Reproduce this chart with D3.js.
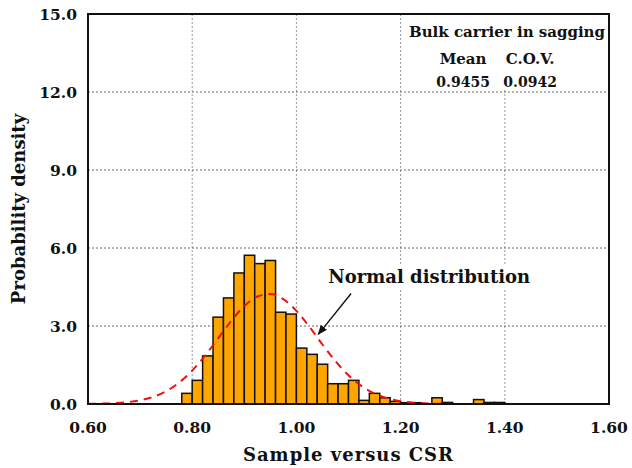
<!DOCTYPE html>
<html>
<head>
<meta charset="utf-8">
<script src="https://cdn.jsdelivr.net/npm/d3@7"></script>
<style>
  body { margin: 0; background: #fff; }
  text { font-family: "DejaVu Serif", serif; font-weight: bold; fill: #111; }
</style>
</head>
<body>
<div id="chart"></div>
<script>
/* Histogram of sample/CSR ratio with fitted normal curve */

const WIDTH = 632;
const HEIGHT = 468;
const MARGIN = {top: 14, right: 23, bottom: 64, left: 88};

// histogram bins (left edge) and probability density, bin width 0.02
const binStarts = [0.78, 0.80, 0.82, 0.84, 0.86, 0.88, 0.90, 0.92, 0.94, 0.96,
                   0.98, 1.00, 1.02, 1.04, 1.06, 1.08, 1.10, 1.12, 1.14, 1.16,
                   1.18, 1.20, 1.22, 1.24, 1.26, 1.28, 1.30, 1.32, 1.34, 1.36, 1.38];
const binDensity = [0.41, 0.91, 1.85, 3.34, 4.08, 5.04, 5.72, 5.40, 5.52, 3.53,
                    3.46, 2.15, 1.91, 1.53, 0.78, 0.78, 0.91, 0.14, 0.41, 0.24,
                    0.10, 0.05, 0.05, 0.00, 0.24, 0.06, 0.00, 0.00, 0.17, 0.06, 0.06];
const binWidth = 0.02;

// normal distribution curve
const curveX = [0.600, 0.625, 0.650, 0.675, 0.700, 0.725, 0.750, 0.775, 0.800, 0.825,
                0.850, 0.875, 0.900, 0.925, 0.950, 0.975, 1.000, 1.025, 1.050, 1.075,
                1.100, 1.125, 1.150, 1.175, 1.200, 1.225, 1.250, 1.275, 1.300, 1.325, 1.350];
const curveY = [0.005, 0.013, 0.031, 0.069, 0.142, 0.274, 0.491, 0.823, 1.285, 1.869,
                2.533, 3.201, 3.769, 4.136, 4.230, 4.032, 3.582, 2.967, 2.289, 1.646,
                1.103, 0.690, 0.401, 0.218, 0.110, 0.052, 0.023, 0.009, 0.004, 0.001, 0.000];

const xTicks = [0.6, 0.8, 1.0, 1.2, 1.4, 1.6];
const yTicks = [0, 3, 6, 9, 12, 15];

const statLabels = ["Mean", "C.O.V."];
const statValues = ["0.9455", "0.0942"];

window.onload = () => {
    const innerW = WIDTH - MARGIN.left - MARGIN.right;
    const innerH = HEIGHT - MARGIN.top - MARGIN.bottom;

    const x = d3.scaleLinear().domain([0.6, 1.6]).range([0, innerW]);
    const y = d3.scaleLinear().domain([0, 15]).range([innerH, 0]);

    const svg = d3.select("#chart").append("svg")
        .attr("width", WIDTH).attr("height", HEIGHT);
    const g = svg.append("g").attr("transform", `translate(${MARGIN.left},${MARGIN.top})`);

    // gridlines
    g.append("g").selectAll("line")
        .data(xTicks.slice(1, -1))
        .enter().append("line")
        .attr("x1", d => x(d)).attr("x2", d => x(d))
        .attr("y1", 0).attr("y2", innerH)
        .attr("stroke", "#999").attr("stroke-width", 1).attr("stroke-dasharray", "2,2");
    g.append("g").selectAll("line")
        .data(yTicks.slice(1, -1))
        .enter().append("line")
        .attr("x1", 0).attr("x2", innerW)
        .attr("y1", d => y(d)).attr("y2", d => y(d))
        .attr("stroke", "#666").attr("stroke-width", 1).attr("stroke-dasharray", "2,2");

    // legend box (white, hides the grid behind it)
    g.append("rect")
        .attr("x", x(1.2) + 2).attr("y", 1)
        .attr("width", innerW - x(1.2) - 3).attr("height", 73)
        .attr("fill", "#fff");

    // histogram
    g.append("g").selectAll("rect")
        .data(binStarts.map((d, i) => ({x0: d, v: binDensity[i]})).filter(d => d.v > 0))
        .enter().append("rect")
        .attr("x", d => x(d.x0))
        .attr("width", d => x(d.x0 + binWidth) - x(d.x0))
        .attr("y", d => y(d.v))
        .attr("height", d => y(0) - y(d.v))
        .attr("fill", "#ffa500")
        .attr("stroke", "#111").attr("stroke-width", 1.5);

    // normal curve
    const line = d3.line()
        .x((d, i) => x(curveX[i]))
        .y(d => y(d))
        .curve(d3.curveMonotoneX);
    g.append("path")
        .datum(curveY)
        .attr("d", line)
        .attr("fill", "none")
        .attr("stroke", "#f01010").attr("stroke-width", 2)
        .attr("stroke-dasharray", "8,6");

    // frame
    g.append("rect")
        .attr("x", 0).attr("y", 0).attr("width", innerW).attr("height", innerH)
        .attr("fill", "none").attr("stroke", "#111").attr("stroke-width", 2);

    // axes labels (no tick marks)
    g.append("g").selectAll("text")
        .data(xTicks)
        .enter().append("text")
        .attr("x", d => x(d)).attr("y", innerH + 29)
        .attr("text-anchor", "middle")
        .style("font-size", "15.5px")
        .text(d => d3.format(".2f")(d));
    g.append("g").selectAll("text")
        .data(yTicks)
        .enter().append("text")
        .attr("x", -11).attr("y", d => y(d) + 5.5)
        .attr("text-anchor", "end")
        .style("font-size", "15.5px")
        .text(d => d3.format(".1f")(d));

    svg.append("text")
        .attr("x", MARGIN.left + x(1.1)).attr("y", 461)
        .attr("text-anchor", "middle")
        .style("font-size", "18px")
        .style("letter-spacing", "1px")
        .text("Sample versus CSR");
    svg.append("text")
        .attr("transform", `translate(25,${MARGIN.top + y(7.5)}) rotate(-90)`)
        .attr("text-anchor", "middle")
        .style("font-size", "18px")
        .text("Probability density");

    // legend text
    const lg = g.append("g");
    lg.append("text")
        .attr("x", innerW - 4).attr("y", 23)
        .attr("text-anchor", "end")
        .style("font-size", "15px")
        .text("Bulk carrier in sagging");
    lg.selectAll(".lab")
        .data(statLabels)
        .enter().append("text")
        .attr("x", (d, i) => x(1.32) + i * 67)
        .attr("y", 50)
        .attr("text-anchor", "middle")
        .style("font-size", "15px")
        .text(d => d);
    lg.selectAll(".val")
        .data(statValues)
        .enter().append("text")
        .attr("x", (d, i) => x(1.32) + i * 67)
        .attr("y", 73)
        .attr("text-anchor", "middle")
        .style("font-size", "14px")
        .text(d => d);

    // annotation with arrow
    svg.append("defs").append("marker")
        .attr("id", "arrow")
        .attr("viewBox", "0 0 10 10")
        .attr("refX", 9).attr("refY", 5)
        .attr("markerWidth", 10).attr("markerHeight", 10)
        .attr("markerUnits", "userSpaceOnUse")
        .attr("orient", "auto")
        .append("path").attr("d", "M0,1 L10,5 L0,9 Z").attr("fill", "#111");

    const annG = g.append("g");
    const annBg = annG.append("rect").attr("fill", "#fff");
    const ann = annG.append("text")
        .attr("x", x(1.255)).attr("y", y(4.65))
        .attr("text-anchor", "middle")
        .style("font-size", "18px")
        .text("Normal distribution");
    const bb = ann.node().getBBox();
    annBg
        .attr("x", bb.x - 6).attr("y", bb.y - 1)
        .attr("width", bb.width + 10).attr("height", bb.height + 2);
    annG.append("line")
        .attr("x1", x(1.105)).attr("y1", y(4.25))
        .attr("x2", x(1.042)).attr("y2", y(2.68))
        .attr("stroke", "#111").attr("stroke-width", 1.4)
        .attr("marker-end", "url(#arrow)");
}
</script>
</body>
</html>
